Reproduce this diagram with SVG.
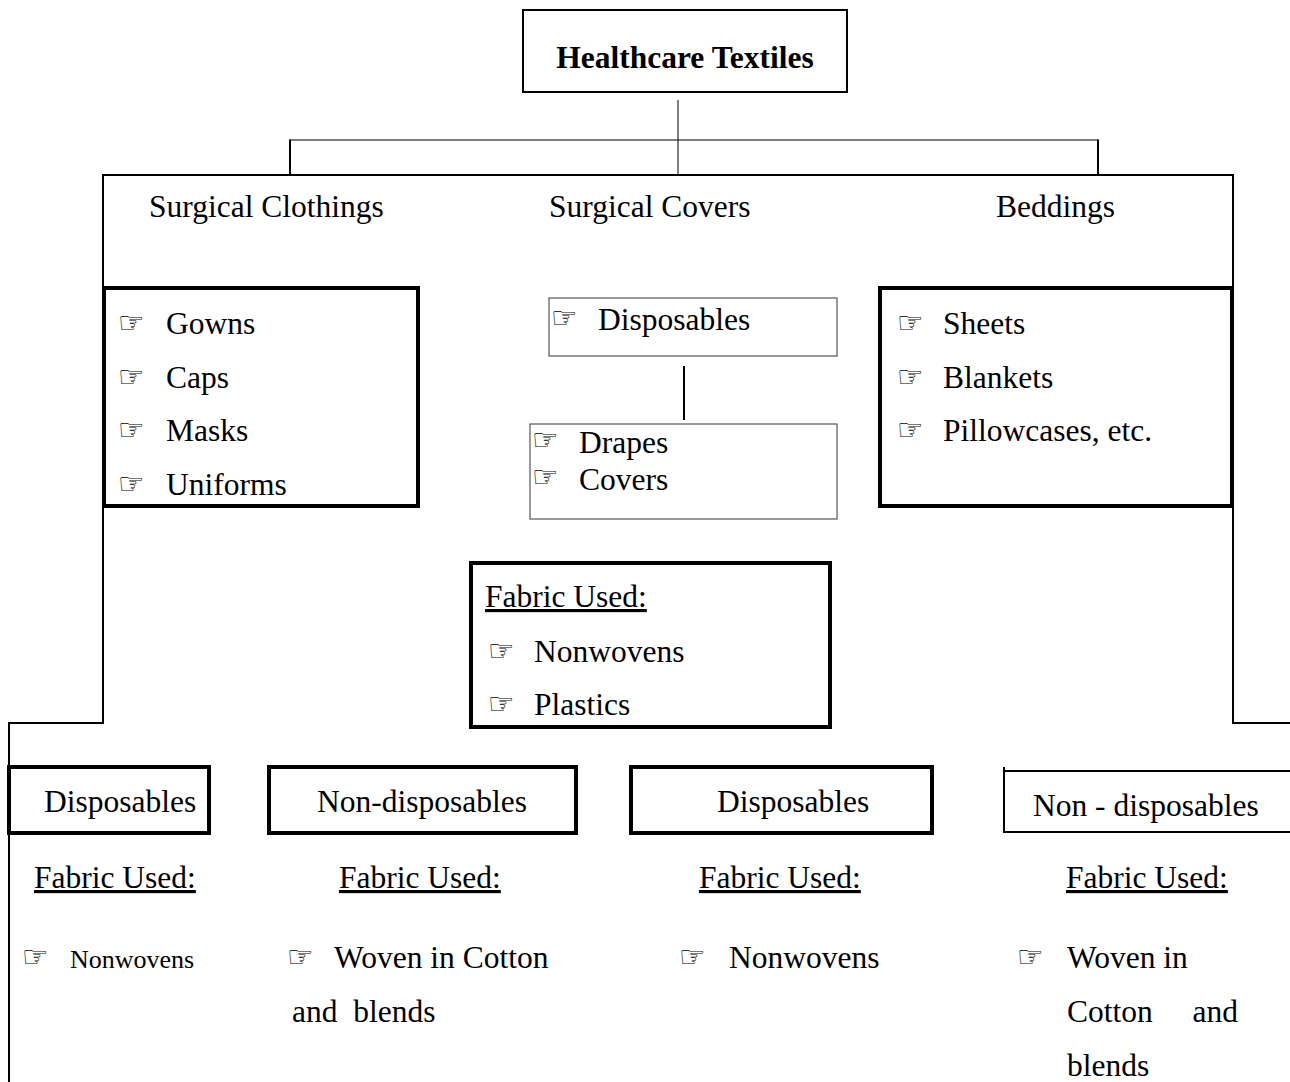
<svg xmlns="http://www.w3.org/2000/svg" width="1290" height="1082" viewBox="0 0 1290 1082">
  <style>
    text { font-family: "Liberation Serif", "Times New Roman", serif; font-size: 31.5px; fill: #000; }
    .title { font-weight: bold; font-size: 31.5px; }
    .small { font-size: 26px; }
    .hand { font-family: "DejaVu Sans", sans-serif; font-size: 30px; }
    .ul { text-decoration: underline; }
    .thick { fill: #fff; stroke: #000; stroke-width: 4; }
    .thin { fill: #fff; stroke: #555; stroke-width: 1.2; }
    .mid { fill: #fff; stroke: #000; stroke-width: 2; }
    .wire { fill: none; stroke: #000; stroke-width: 2; }
    .hair { fill: none; stroke: #000; stroke-width: 1; }
  </style>

  <rect width="1290" height="1082" fill="#fff"/>

  <!-- connectors and frame lines -->
  <g id="connectors">
    <line class="hair" x1="678" y1="100" x2="678" y2="175"/>
    <line class="hair" x1="290" y1="140" x2="1098" y2="140"/>
    <line class="wire" x1="290" y1="139.5" x2="290" y2="176"/>
    <line class="wire" x1="1098" y1="139.5" x2="1098" y2="176"/>
    <polyline class="wire" points="9,1082 9,723 103,723 103,175 1233,175 1233,723 1290,723"/>
    <line class="wire" x1="684" y1="366" x2="684" y2="420"/>
  </g>

  <!-- root -->
  <g id="root">
    <rect class="mid" x="523" y="10" width="324" height="82"/>
    <text class="title" x="685" y="68" text-anchor="middle">Healthcare Textiles</text>
  </g>

  <!-- category headings -->
  <g id="surgical-clothings">
    <text x="149" y="217">Surgical Clothings</text>
  </g>
  <g id="surgical-covers">
    <text x="549" y="217">Surgical Covers</text>
  </g>
  <g id="beddings">
    <text x="996" y="217">Beddings</text>
  </g>

  <!-- clothing items -->
  <g id="clothing-items">
    <rect class="thick" x="104" y="288" width="314" height="218"/>
    <text class="hand" x="118" y="333">☞</text><text x="166" y="334">Gowns</text>
    <text class="hand" x="118" y="387">☞</text><text x="166" y="388">Caps</text>
    <text class="hand" x="118" y="440">☞</text><text x="166" y="441">Masks</text>
    <text class="hand" x="118" y="494">☞</text><text x="166" y="495">Uniforms</text>
  </g>

  <!-- covers: disposables -->
  <g id="covers-disposables">
    <rect class="thin" x="549" y="298" width="288" height="58"/>
    <text class="hand" x="551" y="328">☞</text><text x="598" y="330">Disposables</text>
  </g>

  <!-- covers: drapes and covers -->
  <g id="covers-items">
    <rect class="thin" x="530" y="424" width="307" height="95"/>
    <text class="hand" x="532" y="450">☞</text><text x="579" y="453">Drapes</text>
    <text class="hand" x="532" y="487">☞</text><text x="579" y="490">Covers</text>
  </g>

  <!-- bedding items -->
  <g id="bedding-items">
    <rect class="thick" x="880" y="288" width="352" height="218"/>
    <text class="hand" x="897" y="333">☞</text><text x="943" y="334">Sheets</text>
    <text class="hand" x="897" y="387">☞</text><text x="943" y="388">Blankets</text>
    <text class="hand" x="897" y="440">☞</text><text x="943" y="441">Pillowcases, etc.</text>
  </g>

  <!-- covers fabric -->
  <g id="covers-fabric">
    <rect class="thick" x="471" y="563" width="359" height="164"/>
    <text class="ul" x="485" y="607">Fabric Used:</text>
    <text class="hand" x="488" y="661">☞</text><text x="534" y="662">Nonwovens</text>
    <text class="hand" x="488" y="714">☞</text><text x="534" y="715">Plastics</text>
  </g>

  <!-- clothing: disposables -->
  <g id="clothing-disposables">
    <rect class="thick" x="9" y="767" width="200" height="66"/>
    <text x="44" y="812">Disposables</text>
  </g>
  <g id="clothing-disposables-fabric">
    <text class="ul" x="34" y="888">Fabric Used:</text>
    <text class="hand" x="22" y="967">☞</text><text class="small" x="70" y="968">Nonwovens</text>
  </g>

  <!-- clothing: non-disposables -->
  <g id="clothing-nondisposables">
    <rect class="thick" x="269" y="767" width="307" height="66"/>
    <text x="422" y="812" text-anchor="middle">Non-disposables</text>
  </g>
  <g id="clothing-nondisposables-fabric">
    <text class="ul" x="339" y="888">Fabric Used:</text>
    <text class="hand" x="287" y="967">☞</text><text x="334" y="968">Woven in Cotton</text>
    <text x="292" y="1022" xml:space="preserve">and  blends</text>
  </g>

  <!-- bedding: disposables -->
  <g id="bedding-disposables">
    <rect class="thick" x="631" y="767" width="301" height="66"/>
    <text x="717" y="812">Disposables</text>
  </g>
  <g id="bedding-disposables-fabric">
    <text class="ul" x="699" y="888">Fabric Used:</text>
    <text class="hand" x="679" y="967">☞</text><text x="729" y="968">Nonwovens</text>
  </g>

  <!-- bedding: non-disposables (box runs past the right edge) -->
  <g id="bedding-nondisposables">
    <polyline class="wire" points="1004,767 1004,832 1292,832"/>
    <line class="wire" x1="1003" y1="771" x2="1292" y2="771"/>
    <text x="1033" y="816">Non - disposables</text>
  </g>
  <g id="bedding-nondisposables-fabric">
    <text class="ul" x="1066" y="888">Fabric Used:</text>
    <text class="hand" x="1017" y="967">☞</text><text x="1067" y="968">Woven in</text>
    <text x="1067" y="1022">Cotton</text>
    <text x="1238" y="1022" text-anchor="end">and</text>
    <text x="1067" y="1076">blends</text>
  </g>
</svg>
